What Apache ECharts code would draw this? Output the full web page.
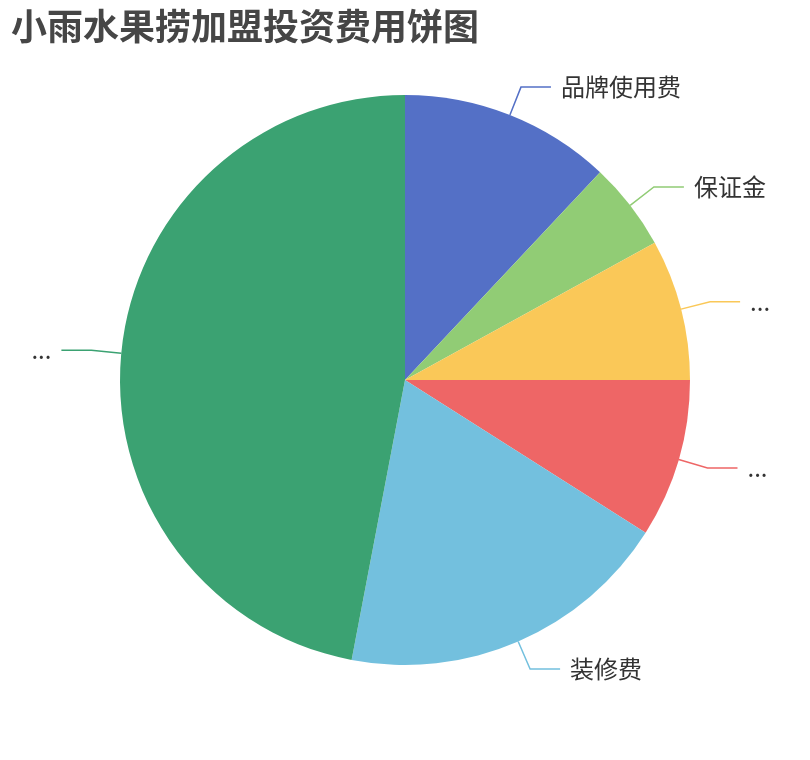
<!DOCTYPE html>
<html>
<head>
<meta charset="utf-8">
<script src="https://cdn.jsdelivr.net/npm/echarts@6/dist/echarts.min.js"></script>
<style>html,body{margin:0;padding:0;background:#fff}#main{width:810px;height:760px}</style>
</head>
<body>
<div id="main"></div>
<script>
const titleText = '小雨水果捞加盟投资费用饼图';
const categories = ['品牌使用费', '保证金', '设备及原材料费用', '首批进货及开业费用', '装修费', '店铺租金及转让费用'];
const values = [12, 5, 8, 9, 19, 47];
const colors = ['#5470c6', '#91cc75', '#fac858', '#ee6666', '#73c0de', '#3ba272'];

const chart = echarts.init(document.getElementById('main'));
chart.setOption({
  color: colors,
  title: {
    text: titleText,
    left: 6,
    top: 3,
    textStyle: { fontSize: 36, fontWeight: 'bold', color: '#464646', fontFamily: 'Noto Sans CJK SC' }
  },
  series: [{
    type: 'pie',
    radius: '75%',
    center: ['50%', '50%'],
    data: categories.map((n, i) => ({ name: n, value: values[i] })),
    label: { fontSize: 24, color: '#333', fontFamily: 'Noto Sans CJK SC', bleedMargin: 30, distanceToLabelLine: 10 },
    labelLine: { length: 30, length2: 30, lineStyle: { width: 1.5 } }
  }]
});
</script>
</body>
</html>
